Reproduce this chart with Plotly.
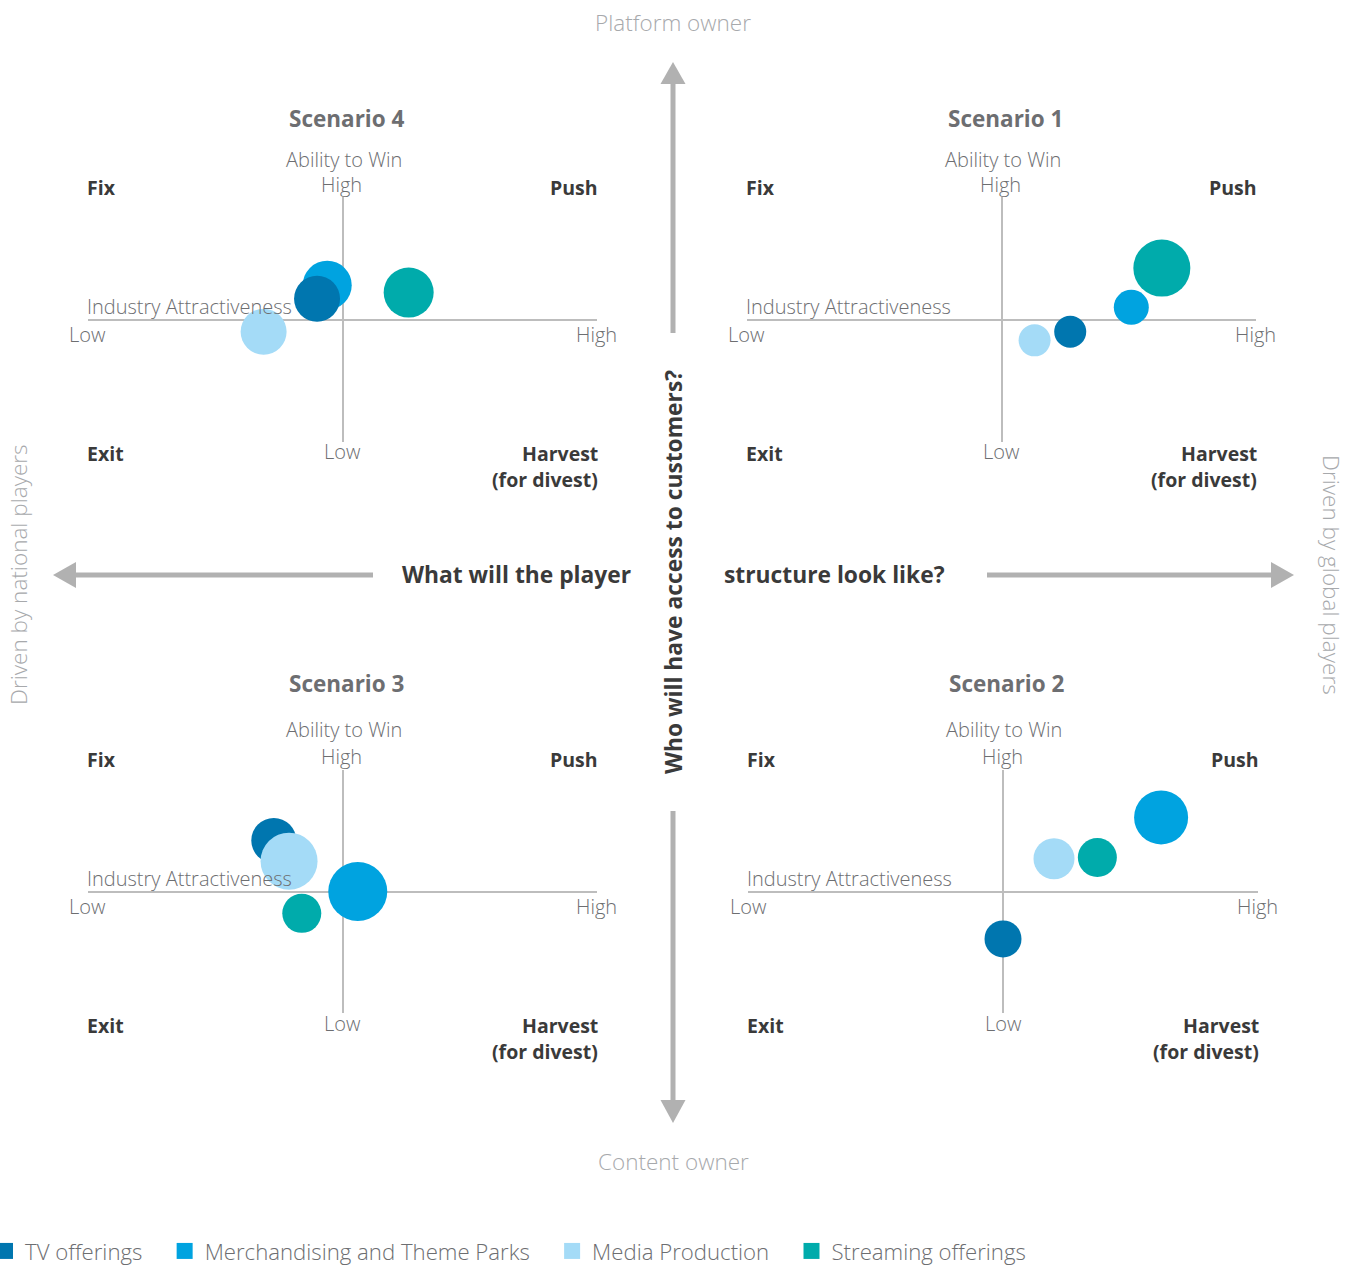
import plotly.graph_objects as go

# ---------------- data ----------------
series_names = ["TV offerings", "Merchandising and Theme Parks", "Media Production", "Streaming offerings"]
series_colors = ["#0076AF", "#00A3E0", "#A4DBF7", "#00ABAB"]
scenario_names = ["Scenario 1", "Scenario 2", "Scenario 3", "Scenario 4"]

# industry attractiveness (x), ability to win (y), bubble size; order: Scenario 1..4
tv_x = [0.27, 0.00, -0.27, -0.10]
tv_y = [-0.10, -0.39, 0.42, 0.17]
tv_size = [32, 37, 45, 46]

merch_x = [0.51, 0.62, 0.06, -0.06]
merch_y = [0.10, 0.61, 0.00, 0.28]
merch_size = [35, 54, 59, 49]

media_x = [0.13, 0.20, -0.21, -0.31]
media_y = [-0.17, 0.27, 0.25, -0.10]
media_size = [32, 41, 57, 46]

stream_x = [0.63, 0.37, -0.16, 0.26]
stream_y = [0.42, 0.28, -0.18, 0.22]
stream_size = [57, 39, 39, 50]

# ---------------- layout helpers ----------------
W, H = 1354, 1265
FONT = "Open Sans"
DARK = "#3A3A3A"
MID = "#6D6E71"
LIGHT = "#A7A9AC"
AXIS = "#BDBDBD"
ARROW = "#B1B1B1"
NBSP = "\u00a0"


def px(x):
    return x / W


def py(y):
    return 1 - y / H


# panel geometry in pixels
panels = {
    "Scenario 1": dict(x0=747, x1=1256, y0=197, y1=442, tdy=-201, ady=-160),
    "Scenario 2": dict(x0=748, x1=1258, y0=770, y1=1013, tdy=-208, ady=-162),
    "Scenario 3": dict(x0=88, x1=597, y0=770, y1=1013, tdy=-208, ady=-162),
    "Scenario 4": dict(x0=88, x1=597, y0=197, y1=442, tdy=-201, ady=-160),
}

fig = go.Figure()
layout_axes = {}
annotations = []
shapes = []


def ann(x, y, text, size=20, color=MID, bold=False, xanchor="center", weight=None, angle=0):
    f = dict(family=FONT, size=size, color=color)
    if bold:
        f["weight"] = 700
    elif weight:
        f["weight"] = weight
    annotations.append(dict(x=px(x), y=py(y), xref="paper", yref="paper", text=text,
                            showarrow=False, xanchor=xanchor, yanchor="middle",
                            font=f, textangle=angle))


data_sets = [
    (1, merch_x, merch_y, merch_size),
    (0, tv_x, tv_y, tv_size),
    (2, media_x, media_y, media_size),
    (3, stream_x, stream_y, stream_size),
]

for i, sc in enumerate(scenario_names):
    g = panels[sc]
    n = "" if i == 0 else str(i + 1)
    layout_axes["xaxis" + n] = dict(domain=[px(g["x0"]), px(g["x1"])], range=[-1, 1], anchor="y" + n,
                                    showgrid=False, zeroline=True, zerolinecolor=AXIS, zerolinewidth=1.6,
                                    showticklabels=False, ticks="", showline=False, fixedrange=True)
    layout_axes["yaxis" + n] = dict(domain=[py(g["y1"]), py(g["y0"])], range=[-1, 1], anchor="x" + n,
                                    showgrid=False, zeroline=True, zerolinecolor=AXIS, zerolinewidth=1.6,
                                    showticklabels=False, ticks="", showline=False, fixedrange=True)
    for si, xs, ys, ss in data_sets:
        fig.add_trace(go.Scatter(
            x=[xs[i]], y=[ys[i]], mode="markers", xaxis="x" + n, yaxis="y" + n,
            marker=dict(size=[ss[i]], sizemode="diameter", sizeref=1, color=series_colors[si],
                        line=dict(width=0), opacity=1),
            name=series_names[si], showlegend=False,
            cliponaxis=False, hoverinfo="name"))

    cx = (g["x0"] + g["x1"]) / 2
    cy = (g["y0"] + g["y1"]) / 2
    L, R = g["x0"] - 3, g["x1"] + 3
    ann(cx + 4, cy + g["tdy"], sc, size=22.5, color=MID, bold=True)
    ann(cx + 1, cy + g["ady"], "Ability to Win", size=20, color=MID, weight=300)
    ann(cx - 1, cy - 135, "High", size=20, color=MID, weight=300)
    ann(L, cy - 132, "Fix", size=19.5, color=DARK, bold=True, xanchor="left")
    ann(R, cy - 132, "Push", size=19.5, color=DARK, bold=True, xanchor="right")
    ann(L, cy - 13, "Industry Attractiveness", size=20, color=MID, weight=300, xanchor="left")
    ann(g["x0"], cy + 15, "Low", size=20, color=MID, weight=300)
    ann(g["x1"] - 1, cy + 15, "High", size=20, color=MID, weight=300)
    ann(cx, cy + 132, "Low", size=20, color=MID, weight=300)
    ann(L, cy + 134, "Exit", size=19.5, color=DARK, bold=True, xanchor="left")
    ann(R, cy + 134, "Harvest", size=19.5, color=DARK, bold=True, xanchor="right")
    ann(R, cy + 160, "(for divest)", size=19.5, color=DARK, bold=True, xanchor="right")

# legend entries (square swatches)
for si, name in enumerate(series_names):
    fig.add_trace(go.Scatter(x=[None], y=[None], mode="markers", name=name + NBSP * 3,
                             marker=dict(symbol="square", size=16, color=series_colors[si]),
                             showlegend=True, hoverinfo="skip"))

# central framework texts
ann(673, 22, "Platform owner", size=22.5, color=LIGHT, weight=300)
ann(673, 1161, "Content owner", size=22.5, color=LIGHT, weight=300)
ann(18, 575, "Driven by national players", size=22.5, color=LIGHT, weight=300, angle=-90)
ann(1332, 575, "Driven by global players", size=22.5, color=LIGHT, weight=300, angle=90)
ann(673, 572, "Who will have access to customers?", size=22.8, color=DARK, bold=True, angle=-90)
ann(516.5, 574, "What will the player", size=22.8, color=DARK, bold=True)
ann(834.5, 574, "structure look like?", size=22.8, color=DARK, bold=True)


def seg(x0, y0, x1, y1):
    shapes.append(dict(type="line", xref="paper", yref="paper", x0=px(x0), y0=py(y0), x1=px(x1), y1=py(y1),
                       line=dict(color=ARROW, width=5)))


def tri(pts):
    path = "M " + " L ".join(f"{px(a)},{py(b)}" for a, b in pts) + " Z"
    shapes.append(dict(type="path", xref="paper", yref="paper", path=path,
                       fillcolor=ARROW, line=dict(width=0)))


seg(673, 82, 673, 333)
tri([(673, 62), (660.5, 84), (685.5, 84)])
seg(673, 811, 673, 1102)
tri([(673, 1123), (660.5, 1100), (685.5, 1100)])
seg(76, 575, 373, 575)
tri([(53, 575), (76, 562), (76, 588)])
seg(987, 575, 1273, 575)
tri([(1294, 575), (1271, 562), (1271, 588)])

fig.update_layout(
    width=W, height=H,
    margin=dict(l=0, r=0, t=0, b=0, autoexpand=False),
    paper_bgcolor="white", plot_bgcolor="rgba(0,0,0,0)",
    font=dict(family=FONT, color=MID),
    annotations=annotations, shapes=shapes,
    showlegend=True,
    legend=dict(orientation="h", x=-15 / W, xanchor="left", y=-7 / H, yanchor="bottom",
                font=dict(family=FONT, size=22.2, color=MID, weight=300),
                itemsizing="trace", traceorder="normal", bgcolor="rgba(0,0,0,0)"),
    **layout_axes,
)

fig.write_html(
    "out.html",
    config={"displayModeBar": False},
    post_script="document.body.style.margin='0';document.body.style.overflow='hidden';",
)
